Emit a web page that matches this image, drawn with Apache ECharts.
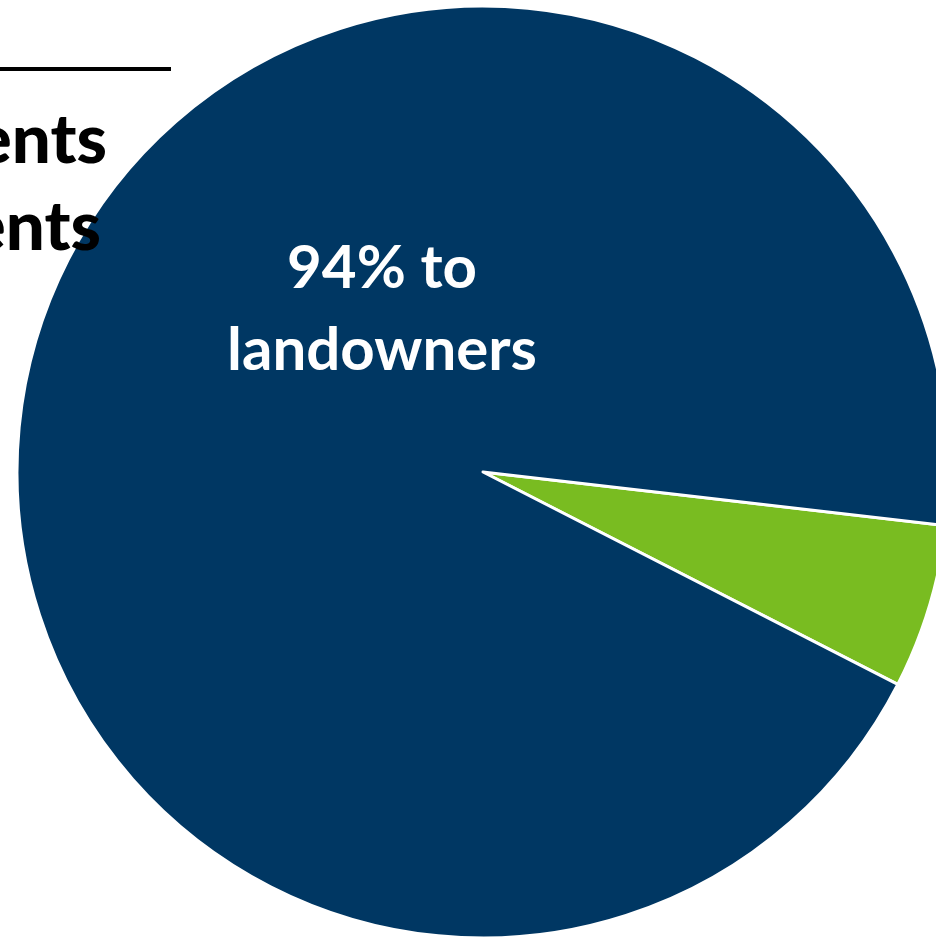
<!DOCTYPE html>
<html>
<head>
<meta charset="utf-8">
<script src="https://cdn.jsdelivr.net/npm/echarts@6/dist/echarts.min.js"></script>
<style>
html,body{margin:0;padding:0;background:#fff;}
#chart{width:936px;height:937px;}
</style>
</head>
<body>
<div id="chart"></div>
<script>
// Data
var categories = ['Other', 'Landowners'];
var values = [5.7, 94.3];
var colors = ['#79BC21', '#003763'];
var sliceLabel = '94% to\nlandowners';
var legendFragments = ['ents', 'ents'];

var chart = echarts.init(document.getElementById('chart'), null, {renderer: 'canvas'});
chart.setOption({
  animation: false,
  backgroundColor: '#ffffff',
  series: [{
    type: 'pie',
    center: [483, 472],
    radius: 466,
    startAngle: -6.6,
    clockwise: true,
    label: {show: false},
    labelLine: {show: false},
    silent: true,
    itemStyle: {borderColor: '#ffffff', borderWidth: 3},
    data: categories.map(function (c, i) {
      return {name: c, value: values[i], itemStyle: {color: colors[i]}};
    })
  }],
  graphic: [
    {type: 'rect', shape: {x: 0, y: 67, width: 171, height: 4}, style: {fill: '#000'}, z: 10},
    {type: 'text', x: 107, y: 141, z: 10,
      style: {text: legendFragments[0], font: '900 69px Lato', fill: '#000', textAlign: 'right', textVerticalAlign: 'middle'}},
    {type: 'text', x: 101, y: 228, z: 10,
      style: {text: legendFragments[1], font: '900 69px Lato', fill: '#000', textAlign: 'right', textVerticalAlign: 'middle'}},
    {type: 'text', x: 382, y: 310, z: 10,
      style: {text: sliceLabel, font: 'bold 60px Lato', lineHeight: 82, fill: '#fff', textAlign: 'center', textVerticalAlign: 'middle'}}
  ]
});
</script>
</body>
</html>
